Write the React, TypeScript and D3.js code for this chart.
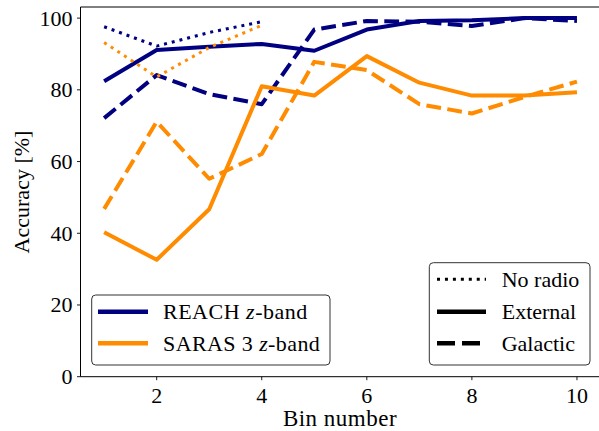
import React from 'react';
import * as d3 from 'd3';

// bins
const bins = [1, 2, 3, 4, 5, 6, 7, 8, 9, 10];
const binsNoRadio = [1, 2, 3, 4];

// REACH z-band accuracies [%]
const reachNoRadio = [97.6, 92.2, 96.0, 99.0];
const reachExternal = [82.4, 91.1, 92.0, 92.8, 90.9, 96.8, 99.2, 99.4, 100, 100];
const reachGalactic = [72.1, 84.1, 78.8, 76.0, 96.8, 99.2, 99.0, 97.8, 100, 99.2];

// SARAS 3 z-band accuracies [%]
const sarasNoRadio = [93.2, 83.6, 91.8, 98.0];
const sarasExternal = [40.3, 32.6, 46.7, 81.0, 78.4, 89.4, 82.0, 78.4, 78.4, 79.3];
const sarasGalactic = [46.8, 71.1, 55.2, 62.1, 87.8, 85.5, 76.0, 73.4, 78.0, 82.3];

const xTicks = [2, 4, 6, 8, 10];
const yTicks = [0, 20, 40, 60, 80, 100];

const NAVY = '#000080';
const ORANGE = '#ff8c00';
const FONT = 'Liberation Serif';

const W = 599, H = 431;
const left = 80.5, right = 600.6, top = 7, bottom = 376.7;

export default function App() {
	const x = d3.scaleLinear().domain([0.55, 10.45]).range([left, right]);
	const y = d3.scaleLinear().domain([0, 103.1]).range([bottom, top]);

	const path = (xs: number[], ys: number[]) =>
		d3.line<number>().x((d, i) => x(xs[i])).y((d) => y(d))(ys) || '';

	const dash = '14.8,6.4';
	const dot = '3,4.95';

	const series = [
		{ xs: binsNoRadio, ys: reachNoRadio, color: NAVY, w: 3, da: dot },
		{ xs: bins, ys: reachExternal, color: NAVY, w: 4, da: undefined },
		{ xs: bins, ys: reachGalactic, color: NAVY, w: 4, da: dash },
		{ xs: binsNoRadio, ys: sarasNoRadio, color: ORANGE, w: 3, da: dot },
		{ xs: bins, ys: sarasExternal, color: ORANGE, w: 4, da: undefined },
		{ xs: bins, ys: sarasGalactic, color: ORANGE, w: 4, da: dash },
	];

	return (
		<svg width={W} height={H} style={{ position: 'absolute', left: 0, top: 0, background: '#fff' }}
			fontFamily={FONT}>
			<defs>
				<clipPath id="plotclip">
					<rect x={left} y={top} width={right - left} height={bottom - top} />
				</clipPath>
			</defs>
			<rect x={0} y={0} width={W} height={H} fill="#fff" />
			<g clipPath="url(#plotclip)">
				{series.map((s, i) => (
					<path key={i} d={path(s.xs, s.ys)} fill="none" stroke={s.color} strokeWidth={s.w}
						strokeDasharray={s.da} strokeLinejoin="round" />
				))}
			</g>
			{/* spines */}
			<line x1={left} x2={left} y1={top} y2={bottom} stroke="#000" strokeWidth={1} />
			<line x1={left} x2={right} y1={bottom} y2={bottom} stroke="#000" strokeWidth={1} />
			<line x1={left} x2={right} y1={top} y2={top} stroke="#000" strokeWidth={1} />
			<line x1={right} x2={right} y1={top} y2={bottom} stroke="#000" strokeWidth={1} />
			{/* y ticks */}
			{yTicks.map((t) => (
				<g key={'y' + t}>
					<line x1={left - 3.5} x2={left} y1={y(t)} y2={y(t)} stroke="#000" strokeWidth={0.9} />
					<text x={left - 8} y={y(t)} dy="0.34em" textAnchor="end" fontSize={22} fontFamily={FONT}>{t}</text>
				</g>
			))}
			{/* x ticks */}
			{xTicks.map((t) => (
				<g key={'x' + t}>
					<line x1={x(t)} x2={x(t)} y1={bottom} y2={bottom + 3.5} stroke="#000" strokeWidth={0.9} />
					<text x={x(t)} y={403} textAnchor="middle" fontSize={22} fontFamily={FONT}>{t}</text>
				</g>
			))}
			<text x={340} y={426} textAnchor="middle" fontSize={23} letterSpacing={0.5} fontFamily={FONT}>Bin number</text>
			<text transform="translate(29,192) rotate(-90)" textAnchor="middle" fontSize={22} fontFamily={FONT}>Accuracy [%]</text>

			{/* legend: instruments */}
			<rect x={91.7} y={295} width={238.3} height={70} rx={4} fill="#fff" fillOpacity={0.8}
				stroke="#333" strokeWidth={1} />
			<line x1={98} x2={148} y1={311.7} y2={311.7} stroke={NAVY} strokeWidth={4.5} />
			<line x1={98} x2={148} y1={343.3} y2={343.3} stroke={ORANGE} strokeWidth={4.5} />
			<text x={163} y={319} fontSize={22} letterSpacing={0.5} fontFamily={FONT}>REACH <tspan fontStyle="italic">z</tspan>-band</text>
			<text x={163} y={351} fontSize={22} letterSpacing={0.4} fontFamily={FONT}>SARAS 3 <tspan fontStyle="italic">z</tspan>-band</text>

			{/* legend: foregrounds */}
			<rect x={429.3} y={262.7} width={160.7} height={102.3} rx={4} fill="#fff" fillOpacity={0.8}
				stroke="#333" strokeWidth={1} />
			<line x1={437} x2={486} y1={279.3} y2={279.3} stroke="#000" strokeWidth={3} strokeDasharray={dot} />
			<line x1={437} x2={486} y1={311.7} y2={311.7} stroke="#000" strokeWidth={4.5} />
			<line x1={437} x2={486} y1={343.3} y2={343.3} stroke="#000" strokeWidth={4.5} strokeDasharray="18,7" />
			<text x={501.7} y={287} fontSize={22} fontFamily={FONT}>No radio</text>
			<text x={501.7} y={319} fontSize={22} fontFamily={FONT}>External</text>
			<text x={501.7} y={351} fontSize={22} fontFamily={FONT}>Galactic</text>
		</svg>
	);
}
